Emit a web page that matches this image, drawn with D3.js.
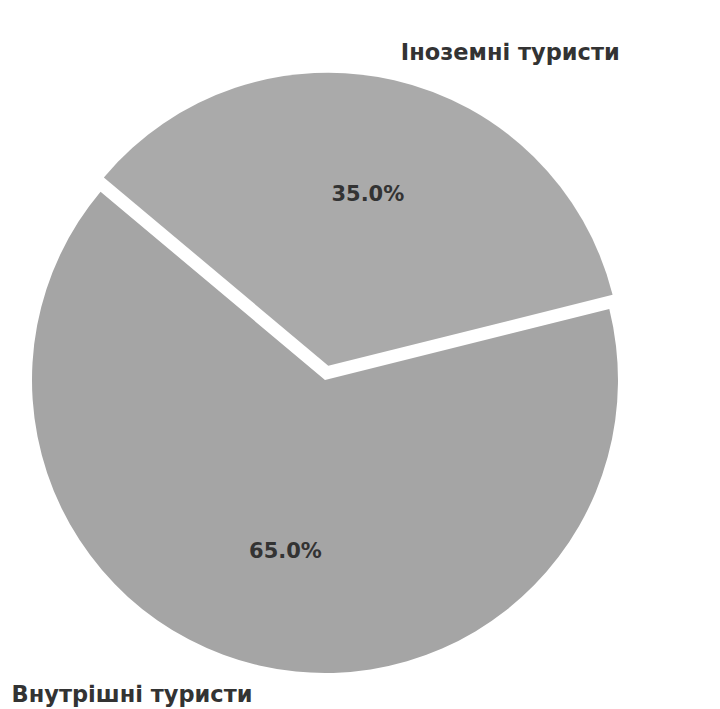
<!DOCTYPE html>
<html>
<head>
<meta charset="utf-8">
<script src="https://cdn.jsdelivr.net/npm/d3@7"></script>
<style>
  body { margin: 0; background: #fff; }
  svg text { font-family: "DejaVu Sans", sans-serif; font-weight: bold; fill: #333; }
</style>
</head>
<body>
<div class="chart"></div>
<script>
// tourists split
const categories = ["Внутрішні туристи", "Іноземні туристи"];
const shares = [65, 35];
const explode = [0, 0.05];
const colours = ["#a5a5a5", "#aaaaaa"];

const width = 720;
const height = 709;
const cx = 325, cy = 380, radius = 293;

const svg = d3.select(".chart")
    .append("svg")
    .attr("width", width)
    .attr("height", height);

const data = categories.map((c, i) => ({ name: c, value: shares[i], explode: explode[i], colour: colours[i] }));

// matplotlib startangle 140, counterclockwise -> first slice starts at 76deg in d3 terms
const start = 76 * Math.PI / 180;
const pie = d3.pie()
    .sort(null)
    .value(d => d.value)
    .startAngle(start)
    .endAngle(start + 2 * Math.PI);

const arcs = pie(data);
const arc = d3.arc().innerRadius(0).outerRadius(radius);
const total = d3.sum(shares);

const g = svg.append("g")
    .attr("transform", `translate(${cx},${cy})`);

const slice = g.selectAll("g.slice")
    .data(arcs)
    .join("g")
    .attr("class", "slice")
    .attr("transform", d => {
        const mid = (d.startAngle + d.endAngle) / 2;
        const off = d.data.explode * radius;
        return `translate(${Math.sin(mid) * off},${-Math.cos(mid) * off})`;
    });

slice.append("path")
    .attr("d", arc)
    .attr("fill", d => d.data.colour);

// percent labels
slice.append("text")
    .attr("x", d => Math.sin((d.startAngle + d.endAngle) / 2) * radius * 0.6)
    .attr("y", d => -Math.cos((d.startAngle + d.endAngle) / 2) * radius * 0.6)
    .attr("text-anchor", "middle")
    .attr("dominant-baseline", "central")
    .attr("font-size", 21)
    .text(d => (d.data.value / total * 100).toFixed(1) + "%");

// category labels
slice.append("text")
    .attr("x", d => Math.sin((d.startAngle + d.endAngle) / 2) * radius * 1.1)
    .attr("y", d => -Math.cos((d.startAngle + d.endAngle) / 2) * radius * 1.1)
    .attr("text-anchor", d => Math.sin((d.startAngle + d.endAngle) / 2) < 0 ? "end" : "start")
    .attr("dominant-baseline", "central")
    .attr("font-size", 22.5)
    .text(d => d.data.name);
</script>
</body>
</html>
